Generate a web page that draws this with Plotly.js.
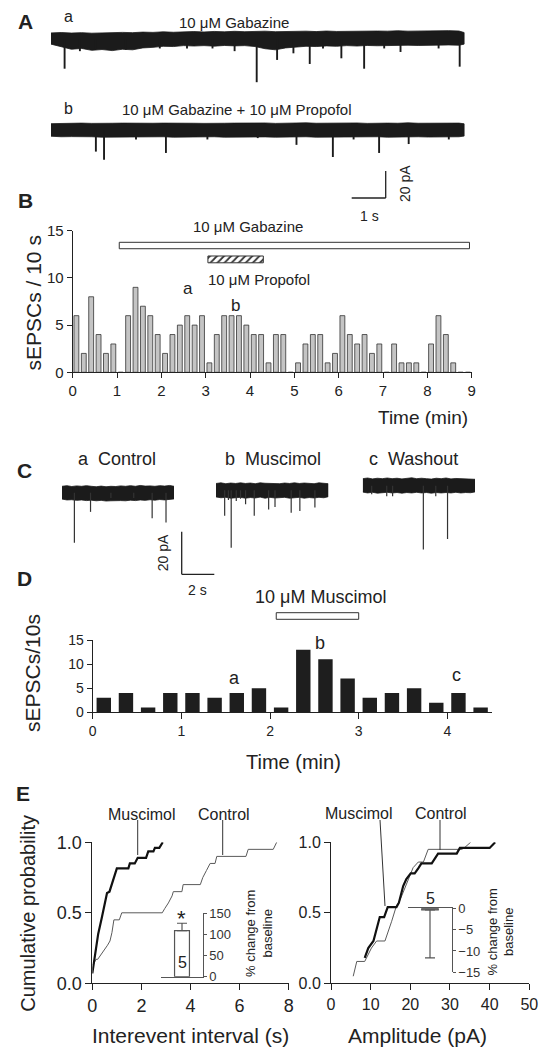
<!DOCTYPE html>
<html><head><meta charset="utf-8">
<script src="https://cdn.plot.ly/plotly-3.0.1.min.js"></script>
<style>html,body{margin:0;padding:0;background:#fff}#plot{width:545px;height:1050px}</style>
</head><body><div id="plot"></div>
<script>
// ---------------- DATA ----------------
// Panel A: recordings (time in s, current in pA relative to baseline)
const gridA = [0,0.3,0.6,0.9,1.2,1.5,1.8,2.1,2.4,2.7,3.0,3.3,3.6,3.9,4.2,4.5,4.8,5.1,5.4,5.7,6.0,6.3,6.6,6.9,7.2,7.5,7.8,8.1,8.4,8.7,9.0,9.3,9.6,9.9,10.2,10.5,10.8,11.1,11.4,11.7,12.0,12.15];
const aUpper = [4.5,4.8,4.4,4.7,4.3,4.6,4.5,4.9,4.7,5.1,4.9,5.3,5.0,5.3,5.5,5.2,5.6,5.3,5.7,5.4,5.6,5.8,5.4,5.7,5.5,5.8,5.5,5.9,5.6,5.8,6.0,5.7,5.9,5.8,6.1,5.8,6.0,6.2,5.9,6.2,5.9,4.8];
const aLower = [-3.8,-5.5,-7.6,-7.0,-8.4,-7.8,-8.6,-7.6,-8.0,-6.6,-6.2,-5.4,-5.6,-4.9,-5.2,-4.9,-5.3,-4.8,-5.1,-4.9,-5.6,-7.2,-8.0,-6.6,-6.2,-5.4,-5.6,-5.1,-5.4,-4.9,-5.2,-4.8,-5.0,-4.7,-4.9,-4.6,-4.8,-4.5,-4.7,-4.4,-4.6,-3.8];
const aEventT = [0.4,0.85,1.3,2.2,3.2,4.0,4.75,5.4,6.05,6.65,7.13,7.61,8.0,8.54,9.21,9.8,10.28,11.4,12.02];
const aEventA = [22,9,8,8,7,7,7,9,32,15.5,10.6,18.5,7,14.3,22,7,9.6,7,20.5];
const bUpper = [4.7,5.0,4.8,5.1,4.9,5.2,5.0,5.1,4.9,5.2,5.0,5.1,4.9,5.2,5.0,4.9,5.2,5.0,5.1,5.3,5.0,5.2,4.9,5.2,5.0,5.3,5.0,5.1,5.3,5.0,5.2,4.9,5.2,5.1,5.0,5.3,5.0,5.1,4.9,5.2,5.1,4.6];
const bLower = [-4.6,-5.0,-4.9,-5.2,-5.0,-5.3,-5.0,-5.2,-4.9,-5.2,-5.1,-5.0,-5.3,-5.1,-4.9,-5.2,-5.0,-5.3,-5.1,-5.0,-5.2,-5.1,-5.3,-5.0,-5.2,-5.0,-5.3,-5.1,-5.2,-4.9,-5.2,-5.1,-5.0,-5.3,-5.1,-5.2,-5.0,-5.2,-5.0,-5.2,-5.0,-4.5];
const bEventT = [1.32,1.56,2.5,3.38,4.6,6.08,7.22,8.29,8.9,9.65,10.52,11.7];
const bEventA = [16,22,7,17,7,6,11,20,7,17,10.4,7];

// Panel B: sEPSCs per 10-s bin
const countsB = [6,2,8,4,2,3,0,6,9,7,6,4,2,4,5,6,5,6,1,4,6,6,6,5,4,4,1,4,4,0,1,3,4,4,1,2,6,4,3,4,2,3,0,3,1,1,1,0,3,6,4,1,0,0];
const binSecB = 10;
const gabazineOn = [1.05, 8.95];
const propofolOn = [3.05, 4.3];
const ticksB = [0,1,2,3,4,5,6,7,8,9];

// Panel C: recordings (s, pA)
const gridC = [0,0.3,0.6,0.9,1.2,1.5,1.8,2.1,2.4,2.7,3.0,3.3,3.6,3.9,4.2,4.5,4.8,5.1,5.4,5.7,6.0,6.3,6.6,6.87];
const caUpper = [3.0,3.3,2.9,3.2,3.0,3.3,3.0,2.8,3.1,2.8,3.0,2.9,3.2,3.0,3.3,3.0,3.4,3.1,3.2,3.0,3.3,3.1,3.4,3.0];
const caLower = [-3.0,-3.4,-3.3,-3.6,-3.4,-3.7,-3.5,-3.8,-3.6,-3.9,-3.8,-3.9,-3.7,-3.8,-3.5,-3.7,-3.4,-3.6,-3.3,-3.5,-3.2,-3.4,-3.1,-2.9];
const caEventT = [0.76,1.75,3.0,4.4,5.53,6.38];
const caEventA = [23.5,9,2.5,2.5,12,14];
const cbUpper = [3.2,3.5,3.1,3.4,3.2,3.5,3.2,3.4,3.1,3.5,3.3,3.2,3.4,3.1,3.4,3.2,3.5,3.2,3.4,3.3,3.1,3.5,3.2,3.1];
const cbLower = [-3.1,-3.5,-3.3,-3.7,-3.5,-3.3,-3.7,-3.4,-3.6,-3.2,-3.7,-3.3,-3.6,-3.4,-3.3,-3.7,-3.5,-3.3,-3.7,-3.4,-3.6,-3.3,-3.5,-3.0];
const cbEventT = [0.53,0.76,0.93,1.24,1.5,1.81,2.34,3.22,3.61,4.6,5.13,6.05];
const cbEventA = [12,4.5,27,5,4,6.6,12,9,7.8,10.5,9.7,8.1];
const ccUpper = [3.3,3.6,3.2,3.5,3.3,3.6,3.3,3.5,3.2,3.5,3.7,3.3,3.5,3.3,3.1,3.5,3.3,3.6,3.2,3.4,3.3,3.5,3.3,3.0];
const ccLower = [-3.0,-3.4,-3.1,-3.5,-3.3,-3.1,-3.4,-3.2,-3.5,-3.2,-3.4,-3.1,-3.4,-3.2,-3.5,-3.2,-3.4,-3.2,-3.4,-3.1,-3.4,-3.2,-3.3,-2.9];
const ccEventT = [0.55,1.47,1.83,3.71,4.47,5.19];
const ccEventA = [4,5,5,30,5,25];

// Panel D: sEPSCs per 15-s bin
const countsD = [3,4,1,4,4,3,4,5,1,13,11,7,3,4,5,2,4,1];
const binSecD = 15;
const muscimolOn = [2.07, 3.0];
const ticksD = [0,1,2,3,4];

// Panel E: cumulative distributions
const iiMuscX = [0.0,0.12,0.24,0.38,0.52,0.6,0.7,0.86,1.0,1.47,1.53,1.73,1.85,2.19,2.28,2.49,2.55,2.73,2.87];
const iiMuscY = [0.07,0.2,0.35,0.46,0.57,0.64,0.65,0.73,0.815,0.815,0.85,0.85,0.89,0.89,0.935,0.935,0.96,0.96,1.0];
const iiCtrlX = [0.03,0.15,0.22,0.35,0.42,0.55,0.62,0.72,0.8,0.88,1.1,1.2,2.85,2.95,3.1,3.25,3.3,3.65,3.7,4.4,4.5,4.65,4.8,5.0,5.07,6.26,6.35,7.37,7.51];
const iiCtrlY = [0.13,0.17,0.17,0.2,0.22,0.25,0.27,0.3,0.36,0.45,0.45,0.5,0.5,0.53,0.57,0.62,0.65,0.65,0.7,0.7,0.75,0.8,0.85,0.85,0.9,0.9,0.95,0.95,1.0];
const ampMuscX = [8.5,9.4,10.7,11.9,12.3,13.4,14.3,16.5,17.1,18.2,19.0,20.1,21.1,22.0,22.8,25.4,27.0,31.7,32.5,40.0,41.4];
const ampMuscY = [0.18,0.25,0.3,0.44,0.47,0.47,0.54,0.54,0.57,0.69,0.74,0.78,0.78,0.815,0.85,0.85,0.92,0.92,0.96,0.96,1.0];
const ampCtrlX = [5.6,6.5,8.5,10.2,11.5,13.6,15.3,16.5,17.4,19.5,20.7,22.0,23.3,24.5,33.0,34.0,35.2];
const ampCtrlY = [0.05,0.155,0.155,0.25,0.3,0.3,0.44,0.55,0.59,0.74,0.82,0.86,0.86,0.95,0.95,0.97,1.0];
const freqChange = [109], freqErr = [17.5];
const ampChange = [-0.4], ampErr = [11.2];
const nCells = 5;

// ---------------- DRAWING ----------------
const W = 545, H = 1050;
const F = 'Liberation Sans, Arial, Helvetica, sans-serif';
const INK = '#222';
const px = p => p / W, py = p => 1 - p / H;

function ax(dom, range, extra) {
  return Object.assign({domain: dom, range: range, showgrid:false, zeroline:false, showline:false,
    showticklabels:false, ticks:'', fixedrange:true}, extra || {});
}
function vis(size, extra) {
  return Object.assign({showline:true, linecolor:INK, linewidth:1, ticks:'outside', ticklen:5, tickwidth:1,
    tickcolor:INK, showticklabels:true, tickfont:{family:F, size:size, color:INK}}, extra || {});
}
const XD = (a,b) => [a/W, b/W];
const YD = (top,bot) => [1-bot/H, 1-top/H];
// y range so that value 0 sits at pixel c with k px per unit
const YR = (top,bot,c,k) => [-(bot-c)/k, (c-top)/k];

const traces = [];
function band(grid, up, lo, xa, ya) {
  traces.push({type:'scatter', mode:'lines', xaxis:xa, yaxis:ya, fill:'toself', fillcolor:'#1b1b1b',
    line:{color:'#1b1b1b', width:0.8},
    x: grid.concat(grid.slice().reverse()), y: up.concat(lo.slice().reverse()), hoverinfo:'skip'});
}
function events(t, a, xa, ya, w, col) {
  const x = [], y = [];
  t.forEach((ti, i) => { x.push(ti, ti, null); y.push(0, -a[i], null); });
  traces.push({type:'scatter', mode:'lines', xaxis:xa, yaxis:ya, x:x, y:y, line:{color:col, width:w}, hoverinfo:'skip'});
}

// Panel A
const kA = 1.35, sA = 34; // px per pA, px per s
band(gridA, aUpper, aLower, 'x', 'y');
events(aEventT, aEventA, 'x', 'y', 1.9, '#1b1b1b');
band(gridA, bUpper, bLower, 'x', 'y2');
events(bEventT, bEventA, 'x', 'y2', 1.9, '#1b1b1b');

// Panel B
const binMinB = binSecB / 60;
traces.push({type:'bar', xaxis:'x2', yaxis:'y3', x: countsB.map((c,i) => (i+0.5)*binMinB), y: countsB,
  width: 0.11, marker:{color:'#c4c4c4', line:{color:'#333', width:0.8}}, hoverinfo:'skip'});
traces.push({type:'scatter', mode:'lines', xaxis:'x2', yaxis:'y3',
  x:[gabazineOn[0],gabazineOn[1],gabazineOn[1],gabazineOn[0],gabazineOn[0]],
  y:[13.09,13.09,13.77,13.77,13.09], fill:'toself', fillcolor:'#fff', line:{color:'#333', width:1}, hoverinfo:'skip'});
traces.push({type:'scatter', mode:'lines', xaxis:'x2', yaxis:'y3',
  x:[propofolOn[0],propofolOn[1],propofolOn[1],propofolOn[0],propofolOn[0]],
  y:[11.6,11.6,12.32,12.32,11.6], fill:'toself', fillcolor:'#fff',
  fillpattern:{shape:'/', fgcolor:'#333', bgcolor:'#fff', size:5, solidity:0.35},
  line:{color:'#333', width:1}, hoverinfo:'skip'});

// Panel C
const kC = 2.13, sC = 16.3;
band(gridC, caUpper, caLower, 'x3', 'y4'); events(caEventT, caEventA, 'x3', 'y4', 1.2, '#333');
band(gridC, cbUpper, cbLower, 'x4', 'y5'); events(cbEventT, cbEventA, 'x4', 'y5', 1.2, '#333');
band(gridC, ccUpper, ccLower, 'x5', 'y6'); events(ccEventT, ccEventA, 'x5', 'y6', 1.2, '#333');

// Panel D
const binMinD = binSecD / 60;
traces.push({type:'bar', xaxis:'x6', yaxis:'y7', x: countsD.map((c,i) => (i+0.5)*binMinD), y: countsD,
  width: 0.1625, marker:{color:'#1e1e1e', line:{width:0}}, hoverinfo:'skip'});

// Panel E
traces.push({type:'scatter', mode:'lines', xaxis:'x7', yaxis:'y8', x:iiCtrlX, y:iiCtrlY, line:{color:'#5a5a5a', width:1}});
traces.push({type:'scatter', mode:'lines', xaxis:'x7', yaxis:'y8', x:iiMuscX, y:iiMuscY, line:{color:'#111', width:2.2}});
traces.push({type:'bar', xaxis:'x8', yaxis:'y9', x:[0.5], y:freqChange, width:0.36,
  marker:{color:'#fff', line:{color:'#555', width:1.2}},
  error_y:{type:'data', symmetric:false, array:freqErr, arrayminus:[0], color:'#555', thickness:1.2, width:5}});
traces.push({type:'scatter', mode:'lines', xaxis:'x9', yaxis:'y10', x:ampCtrlX, y:ampCtrlY, line:{color:'#5a5a5a', width:1}});
traces.push({type:'scatter', mode:'lines', xaxis:'x9', yaxis:'y10', x:ampMuscX, y:ampMuscY, line:{color:'#111', width:2.2}});
traces.push({type:'bar', xaxis:'x10', yaxis:'y11', x:[0.5], y:ampChange, width:0.38,
  marker:{color:'#777', line:{color:'#555', width:1.2}},
  error_y:{type:'data', symmetric:false, array:[0], arrayminus:ampErr, color:'#555', thickness:1.2, width:5}});

const layout = {
  width: W, height: H, margin:{l:0,r:0,t:0,b:0}, paper_bgcolor:'#fff', plot_bgcolor:'rgba(0,0,0,0)',
  showlegend:false, barmode:'overlay', font:{family:F, color:INK},
  // A
  xaxis: ax(XD(51,470), [0, (470-51)/sA], {anchor:'y'}),
  yaxis: ax(YD(20,100), YR(20,100,39,kA), {anchor:'x'}),
  yaxis2: ax(YD(110,170), YR(110,170,130,kA), {anchor:'x'}),
  // B
  xaxis2: ax(XD(72.7,471.7), [0,9], vis(15, {anchor:'y3', tickvals:ticksB})),
  yaxis3: ax(YD(230.7,372.3), [0,15], vis(15, {anchor:'x2', tickvals:[0,5,10,15]})),
  // C
  xaxis3: ax(XD(62,174), [0,6.87], {anchor:'y4'}),
  xaxis4: ax(XD(216,328.3), [0,6.87], {anchor:'y5'}),
  xaxis5: ax(XD(362.7,475), [0,6.87], {anchor:'y6'}),
  yaxis4: ax(YD(470,565), YR(470,565,492.7,kC), {anchor:'x3'}),
  yaxis5: ax(YD(470,565), YR(470,565,490.3,kC), {anchor:'x4'}),
  yaxis6: ax(YD(470,565), YR(470,565,485.7,kC), {anchor:'x5'}),
  // D
  xaxis6: ax(XD(92.7,491.7), [0,4.5], vis(14, {anchor:'y7', tickvals:ticksD, ticklen:6})),
  yaxis7: ax(YD(640,712.3), [0,15], vis(14, {anchor:'x6', tickvals:[0,5,10,15]})),
  // E left
  xaxis7: ax(XD(92.3,288.7), [0,8], vis(18, {anchor:'y8', tickvals:[0,2,4,6,8], ticklen:6})),
  yaxis8: ax(YD(842.3,983.3), [0,1], vis(18, {anchor:'x7', tickvals:[0,0.5,1], tickformat:'.1f', ticklen:6})),
  xaxis8: ax(XD(161.3,202.7), [0,1], {anchor:'y9', showline:true, linecolor:'#555', linewidth:1}),
  yaxis9: ax(YD(913.3,976.7), [0,150], vis(13, {anchor:'x8', side:'right', tickvals:[0,50,100,150], ticklen:3,
           linecolor:'#555', tickcolor:'#555', tickfont:{family:F, size:13, color:'#333'}})),
  // E right
  xaxis9: ax(XD(331,529.3), [0,50], vis(16, {anchor:'y10', tickvals:[0,10,20,30,40,50], ticklen:6})),
  yaxis10: ax(YD(842.3,983.3), [0,1], vis(16, {anchor:'x9', tickvals:[0,0.5,1], tickformat:'.1f', ticklen:6})),
  xaxis10: ax(XD(408.3,451.7), [0,1], {anchor:'y11', side:'top', showline:true, linecolor:'#555', linewidth:1}),
  yaxis11: ax(YD(908.3,972.3), [-15,0], vis(13, {anchor:'x10', side:'right', tickvals:[-15,-10,-5,0], ticklen:3,
           linecolor:'#555', tickcolor:'#555', tickfont:{family:F, size:13, color:'#333'}})),
  annotations: [], shapes: []
};

function T(text, x, y, size, extra) {
  layout.annotations.push(Object.assign({text:text, x:px(x), y:py(y), xref:'paper', yref:'paper', showarrow:false,
    xanchor:'center', yanchor:'middle', font:{family:F, size:size, color:INK}}, extra || {}));
}
function L(x0, y0, x1, y1, col, w) {
  layout.shapes.push({type:'line', xref:'paper', yref:'paper', x0:px(x0), y0:py(y0), x1:px(x1), y1:py(y1),
    line:{color:col || '#333', width:w || 1}});
}

// panel letters
T('<b>A</b>', 25.5, 21.7, 21); T('<b>B</b>', 25.5, 201, 21); T('<b>C</b>', 24.7, 470.5, 21);
T('<b>D</b>', 24.7, 578, 21); T('<b>E</b>', 23.3, 793, 21);

// A texts + scale bar (1 s, 20 pA)
T('a', 68.3, 16, 16); T('10 \u03bcM Gabazine', 234.3, 22.7, 15);
T('b', 68.3, 108.3, 16); T('10 \u03bcM Gabazine + 10 \u03bcM Propofol', 236.7, 110, 15);
L(385.7 - 1*sA, 198, 385.7, 198, '#222', 1.3); L(385.7, 198, 385.7, 198 - 20*kA, '#222', 1.3);
T('20 pA', 405, 184, 14, {textangle:-90}); T('1 s', 369, 216, 14);

// B texts
T('10 \u03bcM Gabazine', 247.7, 226.7, 15); T('10 \u03bcM Propofol', 259, 280, 15);
T('a', 187.7, 288.3, 17); T('b', 235, 306, 17);
T('sEPSCs / 10 s', 32.5, 303, 21, {textangle:-90});
T('Time (min)', 423, 418, 19);

// C texts + scale bar (2 s, 20 pA)
T('a\u00a0\u00a0Control', 117, 459, 18); T('b\u00a0\u00a0Muscimol', 273, 459, 18); T('c\u00a0\u00a0Washout', 413, 459, 18);
L(181.7, 574.3, 181.7 + 2*sC, 574.3, '#222', 1.3); L(181.7, 574.3, 181.7, 574.3 - 20*kC, '#222', 1.3);
T('20 pA', 163.3, 553, 14, {textangle:-90}); T('2 s', 197, 590, 14);

// D texts + drug bar
T('10 \u03bcM Muscimol', 320, 596.7, 18);
layout.shapes.push({type:'rect', xref:'x6', yref:'paper', x0:muscimolOn[0], x1:muscimolOn[1], y0:py(619.3), y1:py(612.7),
  fillcolor:'#fff', line:{color:'#333', width:1}});
T('a', 234.3, 678.3, 18); T('b', 320, 643.3, 18); T('c', 456, 675, 18);
T('sEPSCs/10s', 32, 673, 21, {textangle:-90});
T('Time (min)', 293, 762, 20);

// E texts
T('Muscimol', 141.7, 814.3, 16); T('Control', 224, 814.3, 16);
L(137.7, 820, 137.7, 855); L(222.7, 820, 222.7, 855);
T('Muscimol', 359.3, 813.3, 16); T('Control', 440.7, 813.3, 16);
L(380, 820, 385, 906); L(440, 820, 440, 850);
T('Cumulative probability', 27.7, 913, 20, {textangle:-90});
T('Interevent interval (s)', 190, 1035, 21);
T('Amplitude (pA)', 417.3, 1035, 21);
T('*', 181.7, 918, 22);
T(String(nCells), 182.7, 962, 16);
T('% change from<br>baseline', 259, 934, 13, {textangle:-90});
T(String(nCells), 430, 898, 16);
T('% change from<br>baseline', 500.5, 932, 13, {textangle:-90});

Plotly.newPlot('plot', traces, layout, {staticPlot:true, displayModeBar:false});
</script></body></html>
